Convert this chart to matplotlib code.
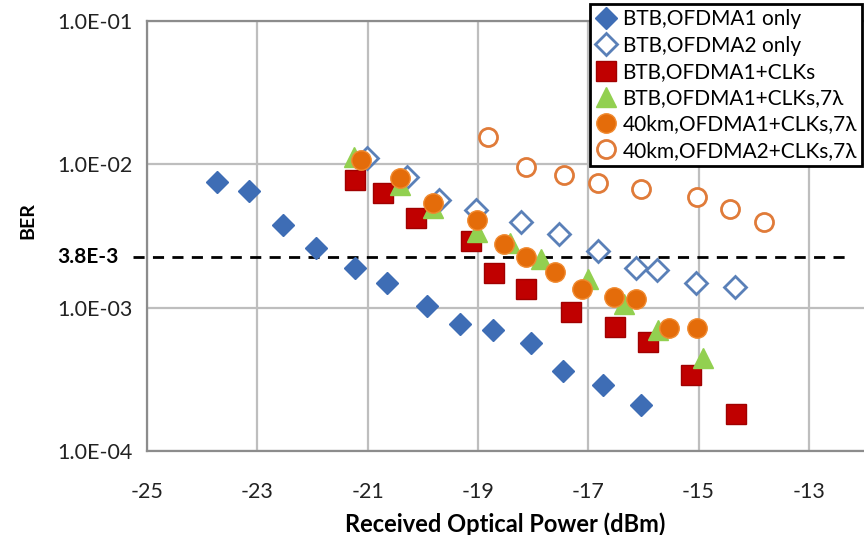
import matplotlib
matplotlib.use("Agg")
import matplotlib.pyplot as plt
from matplotlib.ticker import FixedLocator, NullLocator

plt.rcParams['font.family'] = ['Lato', 'DejaVu Sans']

# BTB, OFDMA1 only
p_ofdma1 = [-23.72, -23.14, -22.54, -21.93, -21.22, -20.65, -19.92, -19.33, -18.73, -18.04, -17.45, -16.74, -16.04]
ber_ofdma1 = [7.5e-3, 6.5e-3, 3.77e-3, 2.61e-3, 1.89e-3, 1.49e-3, 1.03e-3, 7.7e-4, 7.0e-4, 5.7e-4, 3.6e-4, 2.9e-4, 2.1e-4]
# BTB, OFDMA2 only
p_ofdma2 = [-21.01, -20.28, -19.71, -19.04, -18.22, -17.52, -16.83, -16.13, -15.75, -15.05, -14.34]
ber_ofdma2 = [1.1e-2, 8.15e-3, 5.64e-3, 4.8e-3, 3.96e-3, 3.26e-3, 2.48e-3, 1.89e-3, 1.83e-3, 1.49e-3, 1.39e-3]
# BTB, OFDMA1+CLKs
p_clk = [-21.22, -20.72, -20.12, -19.13, -18.71, -18.12, -17.32, -16.51, -15.91, -15.14, -14.32]
ber_clk = [7.8e-3, 6.3e-3, 4.22e-3, 2.92e-3, 1.74e-3, 1.35e-3, 9.3e-4, 7.3e-4, 5.75e-4, 3.4e-4, 1.8e-4]
# BTB, OFDMA1+CLKs, 7 lambda
p_clk7 = [-21.24, -20.41, -19.81, -19.02, -18.42, -17.85, -17.01, -16.35, -15.73, -14.92]
ber_clk7 = [1.12e-2, 7.2e-3, 4.95e-3, 3.37e-3, 2.82e-3, 2.18e-3, 1.58e-3, 1.06e-3, 7.0e-4, 4.45e-4]
# 40km, OFDMA1+CLKs, 7 lambda
p_40a = [-21.12, -20.41, -19.81, -19.02, -18.53, -18.12, -17.61, -17.12, -16.53, -16.13, -15.53, -15.03]
ber_40a = [1.07e-2, 8.0e-3, 5.37e-3, 4.09e-3, 2.78e-3, 2.26e-3, 1.77e-3, 1.35e-3, 1.19e-3, 1.15e-3, 7.2e-4, 7.2e-4]
# 40km, OFDMA2+CLKs, 7 lambda
p_40b = [-18.82, -18.12, -17.43, -16.83, -16.04, -15.03, -14.43, -13.82]
ber_40b = [1.55e-2, 9.6e-3, 8.4e-3, 7.4e-3, 6.7e-3, 5.9e-3, 4.9e-3, 3.96e-3]

labels = ["BTB,OFDMA1 only", "BTB,OFDMA2 only", "BTB,OFDMA1+CLKs",
          "BTB,OFDMA1+CLKs,7\u03bb", "40km,OFDMA1+CLKs,7\u03bb", "40km,OFDMA2+CLKs,7\u03bb"]
x_ticks = [-25, -23, -21, -19, -17, -15, -13]
y_ticks = [1e-4, 1e-3, 1e-2, 1e-1]
y_ticklabels = ["1.0E-04", "1.0E-03", "1.0E-02", "1.0E-01"]
fec_level = 2.25e-3  # drawn position of the "3.8E-3" threshold line

fig = plt.figure(figsize=(8.64, 5.35), dpi=100)
ax = fig.add_axes([0.170, 0.157, 0.830, 0.804])

ax.plot(p_ofdma1, ber_ofdma1, 'D', ms=11, color='#3E6DB5', mec='#3E6DB5', label=labels[0], zorder=3)
ax.plot(p_ofdma2, ber_ofdma2, 'D', ms=11, mfc='white', mec='#5A80B8', mew=2, label=labels[1], zorder=3)
ax.plot(p_clk, ber_clk, 's', ms=14, color='#C00000', mec='#A00000', mew=1, label=labels[2], zorder=3)
ax.plot(p_clk7, ber_clk7, '^', ms=14, color='#92D050', mec='#92D050', label=labels[3], zorder=3)
ax.plot(p_40a, ber_40a, 'o', ms=14, color='#E46C0A', mec='#F08A30', mew=1, label=labels[4], zorder=3)
ax.plot(p_40b, ber_40b, 'o', ms=13, mfc='white', mec='#E07B39', mew=2, label=labels[5], zorder=3)

ax.plot([-25.25, -12.34], [fec_level, fec_level], color='black', lw=2,
        dashes=(4, 3), clip_on=False, zorder=2)

ax.set_yscale('log')
ax.set_xlim(-25, -12)
ax.set_ylim(1e-4, 1e-1)
ax.xaxis.set_major_locator(FixedLocator(x_ticks))
ax.yaxis.set_major_locator(FixedLocator(y_ticks))
ax.yaxis.set_minor_locator(NullLocator())
ax.set_yticklabels(y_ticklabels)
ax.set_xticklabels([str(v) for v in x_ticks])
ax.tick_params(axis='both', length=0, labelsize=15.5, colors='#222222')
ax.tick_params(axis='y', pad=10)
ax.tick_params(axis='x', pad=22)
ax.grid(True, color='#BEBEBE', lw=1.6)
ax.set_axisbelow(True)
for side in ['left', 'bottom', 'top']:
    ax.spines[side].set_color('#8C8C8C')
    ax.spines[side].set_linewidth(1.6)
ax.spines['right'].set_visible(False)

ax.set_xlabel("Received Optical Power (dBm)", fontsize=17, fontweight='bold', labelpad=8)
fig.text(0.032, 0.588, "BER", rotation=90, fontsize=14, fontweight='bold', ha='center', va='center')
fig.text(0.137, 0.520, "3.8E-3", fontsize=15, fontweight='bold', ha='right', va='center')

leg = fig.legend(loc='upper right', bbox_to_anchor=(0.998, 0.992), fontsize=15,
                 frameon=True, fancybox=False, edgecolor='black', framealpha=1,
                 handlelength=1.0, handletextpad=0.3, labelspacing=0.3,
                 borderpad=0.25, borderaxespad=0, markerscale=1.0)
leg.get_frame().set_linewidth(2)

fig.savefig("out.png", dpi=100)
